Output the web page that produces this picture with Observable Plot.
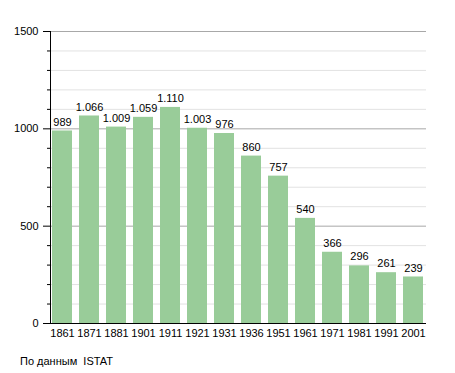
<!DOCTYPE html>
<html><head><meta charset="utf-8">
<script src="https://cdn.jsdelivr.net/npm/d3@7"></script>
<script src="https://cdn.jsdelivr.net/npm/@observablehq/plot@0.6"></script>
<style>
body{margin:0;background:#fff;font-family:"Liberation Sans",Arial,sans-serif;}
#cap{position:absolute;left:20px;top:355px;font-size:11px;color:#000;font-family:"Liberation Sans",Arial,sans-serif;}
</style>
</head><body>
<div id="chart"></div>
<div id="cap">По данным&nbsp; ISTAT</div>
<script>
const years = ["1861","1871","1881","1901","1911","1921","1931","1936","1951","1961","1971","1981","1991","2001"];
const population = [989,1066,1009,1059,1110,1003,976,860,757,540,366,296,261,239];
const majorTicks = [0,500,1000,1500];
const minorTicks = d3.range(100,1500,100).filter(v => v % 500 !== 0);

const data = years.map((y,i) => ({year:y, value:population[i]}));
const fmt = v => v >= 1000 ? Math.floor(v/1000) + "." + String(v%1000).padStart(3,"0") : String(v);

// left axis line drawn from the plot's own dimensions
const leftLine = (index, scales, values, dim) => {
  const l = document.createElementNS("http://www.w3.org/2000/svg", "line");
  l.setAttribute("x1", dim.marginLeft + 0.5);
  l.setAttribute("x2", dim.marginLeft + 0.5);
  l.setAttribute("y1", dim.marginTop);
  l.setAttribute("y2", dim.height - dim.marginBottom);
  l.setAttribute("stroke", "#000");
  return l;
};

const chart = Plot.plot({
  width:455, height:345,
  marginLeft:50, marginRight:29, marginTop:31, marginBottom:22,
  style:{fontFamily:"'Liberation Sans', Arial, sans-serif", fontSize:"11px", color:"#000", background:"#fff"},
  x:{domain:years, paddingInner:0.25, paddingOuter:0.04},
  y:{domain:[0,1500]},
  marks:[
    Plot.ruleY(minorTicks, {stroke:"#e2e2e2", strokeOpacity:1}),
    Plot.ruleY([500,1000,1500], {stroke:"#a8a8a8", strokeOpacity:1}),
    Plot.barY(data, {x:"year", y:"value", fill:"#99cc99"}),
    Plot.text(data, {x:"year", y:"value", text:d => fmt(d.value), dy:-9, fill:"#000", fontSize:11}),
    Plot.axisY({ticks:minorTicks, tickSize:3, label:null, text:null}),
    Plot.axisY({ticks:majorTicks, tickSize:7, tickPadding:5, label:null, tickFormat:d=>String(d)}),
    Plot.axisX({tickSize:0, tickPadding:6, label:null}),
    Plot.ruleY([0], {stroke:"#000"}),
    leftLine
  ]
});
document.getElementById("chart").appendChild(chart);
</script>
</body></html>
